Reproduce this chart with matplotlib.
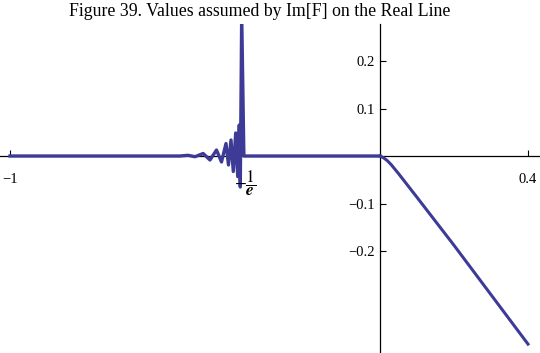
import matplotlib
matplotlib.use("Agg")
import matplotlib.pyplot as plt

# Left part: Im[F] for x < 0 (flat, then oscillations approaching -1/e)
x_left = [-1.0, -0.5405, -0.519, -0.5, -0.478, -0.4595, -0.4419, -0.4284, -0.4162,
          -0.4095, -0.4027, -0.3965, -0.39, -0.3846, -0.3803, -0.3776, -0.3738,
          -0.3679, 0.0]
y_left = [0.0, 0.0, 0.0015, -0.0015, 0.0053, -0.0084, 0.0126, -0.0126, 0.0263,
          -0.0189, 0.0337, -0.0326, 0.0484, -0.0432, 0.0653, -0.0653, 0.30,
          0.0, 0.0]
# Right part: x > 0
x_right = [0.0, 0.01, 0.02, 0.03, 0.05, 0.1, 0.2, 0.3, 0.4]
y_right = [0.0, -0.004, -0.01, -0.018, -0.037, -0.087, -0.188, -0.292, -0.396]

xticks = [-1.0, -0.36788, 0.4]
xtick_labels = ["\u22121", "", "0.4"]
inv_e_label = r"$-\dfrac{1}{\boldsymbol{e}}$"
yticks = [0.2, 0.1, -0.1, -0.2]
ytick_labels = ["0.2", "0.1", "\u22120.1", "\u22120.2"]

title = "Figure 39. Values assumed by Im[F] on the Real Line"

plt.rcParams["mathtext.fontset"] = "stix"

W, H = 540, 353
fig = plt.figure(figsize=(W / 100, H / 100), dpi=100)
top_px, bot_px = 24, 353
ax = fig.add_axes([0, 0, 1, (bot_px - top_px) / H])

px_per_x = 370.0
x0_px = 380.0
ax.set_xlim(-x0_px / px_per_x, (W - x0_px) / px_per_x)
px_per_y = 475.0
y0_px = 156.0
ax.set_ylim(-(bot_px - y0_px) / px_per_y, (y0_px - top_px) / px_per_y)

col = "#3d3b96"
ax.plot(x_left, y_left, color=col, lw=2.4, solid_joinstyle="round", zorder=3)
ax.plot(x_right, y_right, color=col, lw=2.2, solid_joinstyle="round", zorder=3)

for s in ["top", "right"]:
    ax.spines[s].set_visible(False)
ax.spines["left"].set_position(("data", 0))
ax.spines["bottom"].set_position(("data", 0))
ax.spines["left"].set_linewidth(0.9)
ax.spines["bottom"].set_linewidth(0.9)
ax.patch.set_visible(False)

ax.set_xticks(xticks)
ax.set_xticklabels(xtick_labels, family="Liberation Serif")
ax.set_yticks(yticks)
ax.set_yticklabels(ytick_labels, family="Liberation Serif")
ax.tick_params(axis="x", direction="in", length=4, width=0.8, pad=12, labelsize=10.5)
ax.tick_params(axis="y", direction="in", length=4, width=0.8, pad=4, labelsize=10.5)
ax.minorticks_off()

ax.annotate(inv_e_label, xy=(xticks[1], 0), xycoords="data",
            xytext=(1, -20), textcoords="offset points",
            ha="center", va="center", fontsize=12.5)

fig.text(260 / W, 1 - 11 / H, title, ha="center", va="center",
         fontsize=12.8, family="Liberation Serif")

fig.savefig("out.png", dpi=100)
